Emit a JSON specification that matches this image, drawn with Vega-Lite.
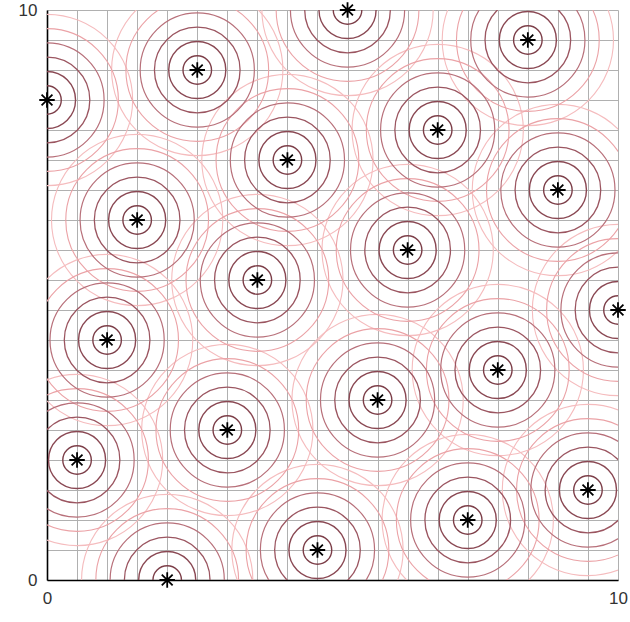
{
  "$schema": "https://vega.github.io/schema/vega-lite/v6.json",
  "autosize": {"type": "none"},
  "padding": {"left": 47, "top": 10, "right": 12, "bottom": 42},
  "width": 571,
  "height": 570,
  "background": "white",
  "config": {
    "view": {"stroke": null},
    "axis": {
      "grid": true,
      "gridColor": "#b0b0b0",
      "gridWidth": 1,
      "gridOpacity": 1,
      "ticks": false,
      "domainColor": "#000000",
      "domainWidth": 1.6,
      "labelFont": "Liberation Sans",
      "labelFontSize": 17,
      "labelColor": "#333333",
      "labelOverlap": false,
      "labelFlush": false,
      "title": null
    }
  },
  "data": {
    "values": [
      {"x": 0, "y": 8.4211},
      {"x": 0.5263, "y": 2.1053},
      {"x": 1.0526, "y": 4.2105},
      {"x": 1.5789, "y": 6.3158},
      {"x": 2.1053, "y": 0},
      {"x": 2.6316, "y": 8.9474},
      {"x": 3.1579, "y": 2.6316},
      {"x": 3.6842, "y": 5.2632},
      {"x": 4.2105, "y": 7.3684},
      {"x": 4.7368, "y": 0.5263},
      {"x": 5.2632, "y": 10},
      {"x": 5.7895, "y": 3.1579},
      {"x": 6.3158, "y": 5.7895},
      {"x": 6.8421, "y": 7.8947},
      {"x": 7.3684, "y": 1.0526},
      {"x": 7.8947, "y": 3.6842},
      {"x": 8.4211, "y": 9.4737},
      {"x": 8.9474, "y": 6.8421},
      {"x": 9.4737, "y": 1.5789},
      {"x": 10, "y": 4.7368}
    ]
  },
  "encoding": {
    "x": {
      "field": "x", "type": "quantitative",
      "scale": {"domain": [0, 10], "nice": false, "zero": false},
      "axis": {
        "values": [0, 0.5263, 1.0526, 1.5789, 2.1053, 2.6316, 3.1579, 3.6842, 4.2105, 4.7368, 5.2632, 5.7895, 6.3158, 6.8421, 7.3684, 7.8947, 8.4211, 8.9474, 9.4737, 10],
        "labelExpr": "datum.value == 0 || datum.value == 10 ? format(datum.value, 'd') : ''",
        "labelPadding": 10,
        "labelAngle": 0
      }
    },
    "y": {
      "field": "y", "type": "quantitative",
      "scale": {"domain": [0, 10], "nice": false, "zero": false},
      "axis": {
        "values": [0, 0.5263, 1.0526, 1.5789, 2.1053, 2.6316, 3.1579, 3.6842, 4.2105, 4.7368, 5.2632, 5.7895, 6.3158, 6.8421, 7.3684, 7.8947, 8.4211, 8.9474, 9.4737, 10],
        "labelExpr": "datum.value == 0 || datum.value == 10 ? format(datum.value, 'd') : ''",
        "labelPadding": 10,
        "labelBaseline": "middle"
      }
    }
  },
  "layer": [
    {"mark": {"type": "point", "shape": "circle", "filled": false, "size": 29344, "stroke": "#f5bcbe", "strokeWidth": 1.1, "opacity": 1, "clip": true}},
    {"mark": {"type": "point", "shape": "circle", "filled": false, "size": 20378, "stroke": "#eba2a6", "strokeWidth": 1.1, "opacity": 1, "clip": true}},
    {"mark": {"type": "point", "shape": "circle", "filled": false, "size": 13042, "stroke": "#b8707a", "strokeWidth": 1.2, "opacity": 1, "clip": true}},
    {"mark": {"type": "point", "shape": "circle", "filled": false, "size": 7336, "stroke": "#9b5560", "strokeWidth": 1.3, "opacity": 1, "clip": true}},
    {"mark": {"type": "point", "shape": "circle", "filled": false, "size": 3261, "stroke": "#8a4853", "strokeWidth": 1.4, "opacity": 1, "clip": true}},
    {"mark": {"type": "point", "shape": "circle", "filled": false, "size": 815, "stroke": "#7c3e48", "strokeWidth": 1.4, "opacity": 1, "clip": true}},
    {"mark": {"type": "point", "shape": "M-1,0L1,0M0,-1L0,1M-0.7,-0.7L0.7,0.7M-0.7,0.7L0.7,-0.7", "filled": false, "size": 240, "stroke": "#000000", "strokeWidth": 1.8, "opacity": 1}}
  ]
}
